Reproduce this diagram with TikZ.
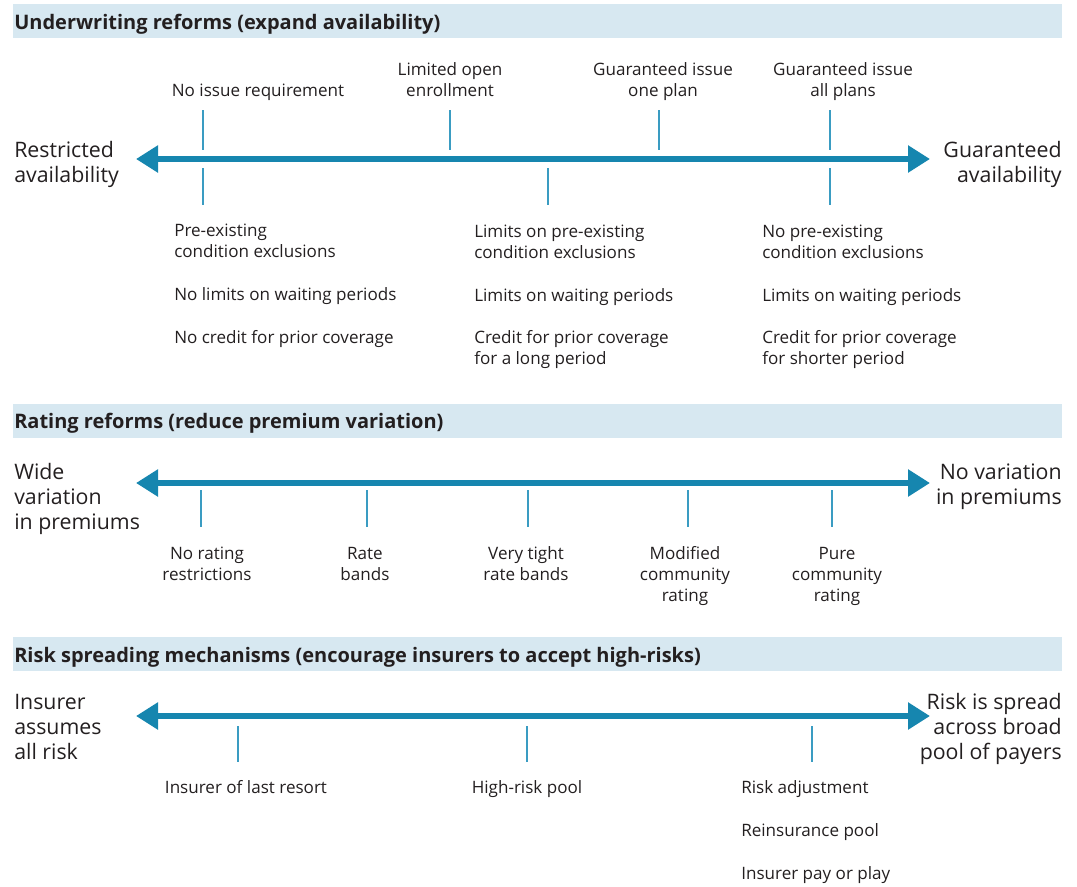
\documentclass[tikz,border=0pt]{standalone}
\usepackage{fontspec}
\setmainfont{Open Sans}
\usetikzlibrary{arrows.meta}
\definecolor{txt}{HTML}{231F20}
\definecolor{arr}{HTML}{1686AF}
\definecolor{tick}{HTML}{3A9CC2}
\definecolor{band}{HTML}{D7E8F1}
\tikzset{
  hdr/.style={font=\fontsize{15}{17}\selectfont\bfseries, text=txt, inner sep=0, anchor=base west},
  big/.style={font=\fontsize{16}{18.75}\selectfont, text=txt, inner sep=0, anchor=base},
  sm/.style={font=\fontsize{12.8}{15.75}\selectfont, text=txt, inner sep=0, anchor=base},
  axis/.style={draw=arr, line width=4.3pt, {Triangle[length=16.5pt,width=19.5pt]}-{Triangle[length=16.5pt,width=19.5pt]}, color=arr},
  tk/.style={draw=tick, line width=1.2pt},
}
\begin{document}
\begin{tikzpicture}[x=0.75pt,y=-0.75pt]
\useasboundingbox (0,0) rectangle (1077,886);
% header bars
\fill[band] (13,4) rectangle (1062,38);
\fill[band] (13,404) rectangle (1062,438);
\fill[band] (13,637) rectangle (1062,671);
\node[hdr] (h1) at (14,29) {Underwriting reforms (expand availability)};
\node[hdr] (h2) at (14,428) {Rating reforms (reduce premium variation)};
\node[hdr] (h3) at (14,662) {Risk spreading mechanisms (encourage insurers to accept high-risks)};

% ===== Section 1
\coordinate (a1l) at (136,159);
\coordinate (a1r) at (930,159);
\draw[axis] (a1l) -- (a1r);
\node[big, anchor=base west, align=left] (l1) at (14,182) {Restricted\\availability};
\node[big, anchor=base east, align=right] (r1) at (1062,182) {Guaranteed\\availability};
% ticks above
\coordinate (t1a) at (203,110); \coordinate (t1b) at (203,150);
\coordinate (t2a) at (450,110); \coordinate (t2b) at (450,150);
\coordinate (t3a) at (659,110); \coordinate (t3b) at (659,150);
\coordinate (t4a) at (830,110); \coordinate (t4b) at (830,150);
\draw[tk] (t1a) -- (t1b); \draw[tk] (t2a) -- (t2b); \draw[tk] (t3a) -- (t3b); \draw[tk] (t4a) -- (t4b);
% ticks below
\coordinate (b1a) at (203,168); \coordinate (b1b) at (203,205);
\coordinate (b2a) at (548,168); \coordinate (b2b) at (548,205);
\coordinate (b3a) at (830,168); \coordinate (b3b) at (830,205);
\draw[tk] (b1a) -- (b1b); \draw[tk] (b2a) -- (b2b); \draw[tk] (b3a) -- (b3b);
% labels above
\node[sm] (u1) at (258,96) {No issue requirement};
\node[sm, align=center] (u2) at (450,96) {Limited open\\enrollment};
\node[sm, align=center] (u3) at (663,96) {Guaranteed issue\\one plan};
\node[sm, align=center] (u4) at (843,96) {Guaranteed issue\\all plans};
% labels below, columns
\node[sm, anchor=base west, align=left] (c1a) at (174,257) {Pre-existing\\condition exclusions};
\node[sm, anchor=base west] (c1b) at (174,300) {No limits on waiting periods};
\node[sm, anchor=base west] (c1c) at (174,343) {No credit for prior coverage};
\node[sm, anchor=base west, align=left] (c2a) at (474,258) {Limits on pre-existing\\condition exclusions};
\node[sm, anchor=base west] (c2b) at (474,301) {Limits on waiting periods};
\node[sm, anchor=base west, align=left] (c2c) at (474,364) {Credit for prior coverage\\for a long period};
\node[sm, anchor=base west, align=left] (c3a) at (762,258) {No pre-existing\\condition exclusions};
\node[sm, anchor=base west] (c3b) at (762,301) {Limits on waiting periods};
\node[sm, anchor=base west, align=left] (c3c) at (762,364) {Credit for prior coverage\\for shorter period};

% ===== Section 2
\coordinate (a2l) at (136,483);
\coordinate (a2r) at (930,483);
\draw[axis] (a2l) -- (a2r);
\node[big, anchor=base west, align=left] (l2) at (14,529) {Wide\\variation\\in premiums};
\node[big, anchor=base east, align=right] (r2) at (1062,504) {No variation\\in premiums};
\coordinate (s1a) at (201,490); \coordinate (s1b) at (201,527);
\coordinate (s2a) at (367,490); \coordinate (s2b) at (367,527);
\coordinate (s3a) at (528,490); \coordinate (s3b) at (528,527);
\coordinate (s4a) at (688,490); \coordinate (s4b) at (688,527);
\coordinate (s5a) at (832,490); \coordinate (s5b) at (832,527);
\draw[tk] (s1a) -- (s1b); \draw[tk] (s2a) -- (s2b); \draw[tk] (s3a) -- (s3b); \draw[tk] (s4a) -- (s4b); \draw[tk] (s5a) -- (s5b);
\node[sm, align=center] (v1) at (207,580) {No rating\\restrictions};
\node[sm, align=center] (v2) at (365,580) {Rate\\bands};
\node[sm, align=center] (v3) at (526,580) {Very tight\\rate bands};
\node[sm, align=center] (v4) at (685,601) {Modified\\community\\rating};
\node[sm, align=center] (v5) at (837,601) {Pure\\community\\rating};

% ===== Section 3
\coordinate (a3l) at (136,716);
\coordinate (a3r) at (930,716);
\draw[axis] (a3l) -- (a3r);
\node[big, anchor=base west, align=left] (l3) at (14,759) {Insurer\\assumes\\all risk};
\node[big, anchor=base east, align=right] (r3) at (1062,759) {Risk is spread\\across broad\\pool of payers};
\coordinate (p1a) at (238,726); \coordinate (p1b) at (238,762);
\coordinate (p2a) at (527,726); \coordinate (p2b) at (527,762);
\coordinate (p3a) at (812,726); \coordinate (p3b) at (812,762);
\draw[tk] (p1a) -- (p1b); \draw[tk] (p2a) -- (p2b); \draw[tk] (p3a) -- (p3b);
\node[sm] (w1) at (246,793) {Insurer of last resort};
\node[sm] (w2) at (527,793) {High-risk pool};
\node[sm, anchor=base west] (w3) at (741,793) {Risk adjustment};
\node[sm, anchor=base west] (w4) at (741,836) {Reinsurance pool};
\node[sm, anchor=base west] (w5) at (741,879) {Insurer pay or play};
\end{tikzpicture}
\end{document}
